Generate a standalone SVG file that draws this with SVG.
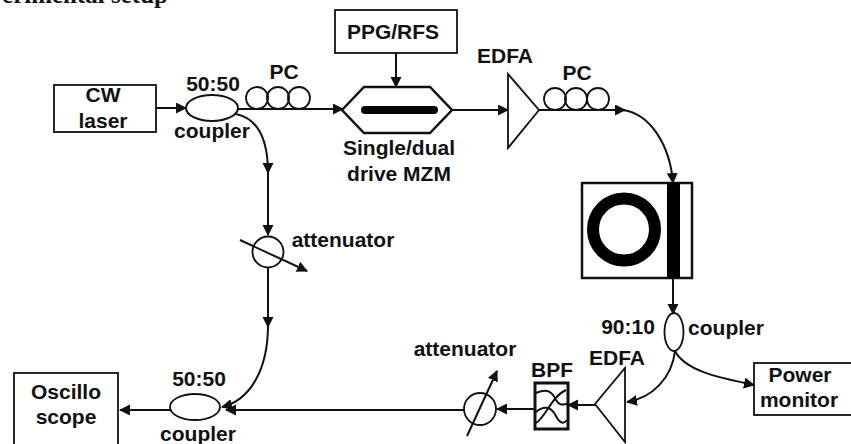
<svg xmlns="http://www.w3.org/2000/svg" width="851" height="444" viewBox="0 0 851 444">
<style>
text{font-family:"Liberation Sans",Arial,sans-serif;font-weight:bold;font-size:21px;fill:#111;text-anchor:middle}
.s{fill:none;stroke:#111;stroke-width:1.8}
.w{fill:#fff;stroke:#111;stroke-width:1.8}
.b{fill:#fff;stroke:#111;stroke-width:2}
.c{fill:none;stroke:#111;stroke-width:2}
.a{marker-end:url(#ah)}
</style>
<defs>
<marker id="ah" markerUnits="userSpaceOnUse" markerWidth="12" markerHeight="12" refX="10" refY="5.5" orient="auto"><path d="M0 0L11 5.5L0 11Z" fill="#111"/></marker>
</defs>
<rect width="851" height="444" fill="#fff"/>
<text id="title" x="168" y="3" style="font-family:'Liberation Serif',serif;font-size:25px;text-anchor:end">erimental setup</text>
<g id="connectors">
<path class="c a" d="M156 108H186"/>
<path class="c a" d="M238 109H343"/>
<path class="c a" d="M396 53V87"/>
<path class="c a" d="M452 110H508"/>
<path class="c a" d="M539 110H625"/>
<path class="c a" d="M622 110C650 113 670 145 673 183"/>
<path class="c a" d="M673 278V314"/>
<path class="c a" d="M675 351C672 378 652 398 627 402"/>
<path class="c a" d="M675 351C685 370 715 377 754 385"/>
<path class="c a" d="M595 405H568"/>
<path class="c a" d="M535 409H497"/>
<path class="c a" d="M465 410H226"/>
<path class="c a" d="M170 410H120"/>
<path class="c a" d="M236 114C255 118 268 135 268 173"/>
<path class="c a" d="M268 170V235"/>
<path class="c a" d="M268 268V327"/>
<path class="c a" d="M268 325C268 370 250 400 222 407"/>
</g>
<g id="cw-laser"><rect class="s" x="54" y="85" width="102" height="47"/><text x="103" y="102">CW</text><text x="103" y="128">laser</text></g>
<g id="coupler-1"><ellipse class="b" cx="212" cy="108" rx="26" ry="13"/><text x="213" y="91">50:50</text><text x="212" y="138">coupler</text></g>
<g id="pc-1"><circle class="s" cx="257" cy="98" r="11"/><circle class="s" cx="278" cy="98" r="11"/><circle class="s" cx="299" cy="98" r="11"/><text x="284" y="79">PC</text></g>
<g id="ppg"><rect class="s" x="335" y="10" width="122" height="43"/><text x="393" y="39">PPG/RFS</text></g>
<g id="mzm"><path d="M342 110L364 87H430L452 110L430 133H364Z" fill="#fff" stroke="#111" stroke-width="2.5"/><path d="M365 110H434" stroke="#000" stroke-width="8" stroke-linecap="round"/><text x="399" y="155">Single/dual</text><text x="399" y="181">drive MZM</text></g>
<g id="edfa-1"><path class="w" d="M508 74V148L539 110Z"/><text x="505" y="63">EDFA</text></g>
<g id="pc-2"><circle class="s" cx="555" cy="99" r="11"/><circle class="s" cx="576" cy="99" r="11"/><circle class="s" cx="598" cy="99" r="11"/><text x="577" y="80">PC</text></g>
<g id="ring"><rect class="s" x="582" y="183" width="110" height="95" style="stroke-width:2.5"/><circle cx="624" cy="229.5" r="31" fill="none" stroke="#000" stroke-width="12"/><rect x="667" y="183" width="13" height="95" fill="#000"/></g>
<g id="attenuator-1"><circle class="s" cx="268" cy="252" r="15.5"/><path class="c a" d="M240 240L307 271"/><text x="343" y="247">attenuator</text></g>
<g id="coupler-3"><ellipse class="s" cx="674" cy="332" rx="9.5" ry="19"/><text x="628" y="334">90:10</text><text x="726" y="335">coupler</text></g>
<g id="power"><rect class="s" x="754" y="363" width="100" height="52"/><text x="800" y="382">Power</text><text x="799" y="407">monitor</text></g>
<g id="edfa-2"><path class="w" d="M625 368V442L595 404Z"/><text x="617" y="365">EDFA</text></g>
<g id="bpf"><rect x="535" y="383" width="33" height="46" fill="#fff" stroke="#111" stroke-width="3"/><path class="c" d="M536 393C548 388 552 392 556 400C560 407 564 404 567 404M536 412C545 404 552 408 556 416C560 424 564 424 567 420M536 423C545 418 552 396 566 390"/><text x="552" y="377">BPF</text></g>
<g id="attenuator-2"><circle class="s" cx="480" cy="409" r="16"/><path class="c a" d="M467 436L497 371"/><text x="465" y="356">attenuator</text></g>
<g id="coupler-2"><ellipse class="s" cx="195" cy="407" rx="25" ry="13"/><text x="199" y="386">50:50</text><text x="198" y="441">coupler</text></g>
<g id="scope"><rect class="s" x="14" y="373" width="104" height="80"/><text x="66" y="399">Oscillo</text><text x="66" y="424">scope</text></g>
</svg>
